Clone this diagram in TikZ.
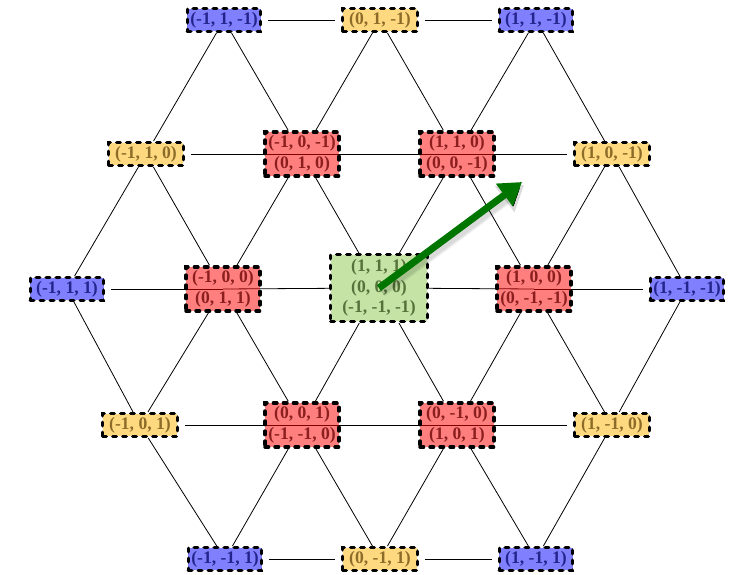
\documentclass[tikz,border=0pt]{standalone}
\usepackage{fontspec}
\setmainfont{Liberation Serif}
\usetikzlibrary{arrows.meta}
\pgfdeclarelayer{background}
\pgfsetlayers{background,main}

\definecolor{bluefill}{RGB}{128,128,255}
\definecolor{bluetext}{RGB}{36,36,140}
\definecolor{yellowfill}{RGB}{255,217,128}
\definecolor{yellowtext}{RGB}{140,108,40}
\definecolor{redtext}{RGB}{140,30,30}
\definecolor{greenfill}{RGB}{197,227,165}
\definecolor{greentext}{RGB}{86,114,58}
\definecolor{arrowgreen}{RGB}{0,118,0}

\tikzset{
  cell/.style={draw=black, line width=3.4pt, dash pattern=on 3.6pt off 6.4pt,
    line cap=round, rectangle, align=center, inner xsep=1pt, inner ysep=1pt,
    font=\fontsize{17.6}{20.5}\selectfont\bfseries},
  bluecell/.style={cell, fill=bluefill, text=bluetext, minimum width=73.5pt, minimum height=22.5pt},
  yellowcell/.style={cell, fill=yellowfill, text=yellowtext, minimum width=74.5pt, minimum height=22.5pt},
  redcell/.style={cell, fill=red, fill opacity=0.5, text opacity=1, draw opacity=1,
    text=redtext, minimum width=74pt, minimum height=44pt},
  greencell/.style={cell, fill=greenfill, text=greentext, minimum width=96.5pt, minimum height=66.5pt},
  link/.style={draw=black, line width=0.8pt},
  gapboth/.style={link, shorten <=6pt, shorten >=6pt},
  gapstart/.style={link, shorten <=6pt},
  gapend/.style={link, shorten >=6pt},
  bigarrow/.style={draw=arrowgreen, line width=7pt,
    -{Triangle[length=22pt, width=27pt]}},
  arrowshade/.style={draw=black, draw opacity=0.05, line width=#1,
    -{Triangle[length=24pt, width=31pt]}},
}

\begin{document}
\begin{tikzpicture}[x=1pt, y=-1pt]
\useasboundingbox (0,0) rectangle (739,575);

% row 0
\node[bluecell]   (b1) at (224,20)  {(-1, 1, -1)};
\node[yellowcell] (y1) at (380,20)  {(0, 1, -1)};
\node[bluecell]   (b2) at (536,20)  {(1, 1, -1)};
% row 1
\node[yellowcell] (y2) at (146,154) {(-1, 1, 0)};
\node[redcell]    (r1) at (302,154) {(-1, 0, -1)\\(0, 1, 0)};
\node[redcell]    (r2) at (457,154) {(1, 1, 0)\\(0, 0, -1)};
\node[yellowcell] (y3) at (612,154) {(1, 0, -1)};
% row 2
\node[bluecell]   (b3) at (67,289)  {(-1, 1, 1)};
\node[redcell]    (r3) at (223,289) {(-1, 0, 0)\\(0, 1, 1)};
\node[greencell]  (g)  at (379,288) {(1, 1, 1)\\(0, 0, 0)\\(-1, -1, -1)};
\node[redcell]    (r4) at (534,289) {(1, 0, 0)\\(0, -1, -1)};
\node[bluecell]   (b4) at (687,289) {(1, -1, -1)};
% row 3
\node[yellowcell] (y4) at (140,425) {(-1, 0, 1)};
\node[redcell]    (r5) at (302,425) {(0, 0, 1)\\(-1, -1, 0)};
\node[redcell]    (r6) at (457,425) {(0, -1, 0)\\(1, 0, 1)};
\node[yellowcell] (y5) at (612,425) {(1, -1, 0)};
% row 4
\node[bluecell]   (b5) at (225,559) {(-1, -1, 1)};
\node[yellowcell] (y6) at (380,559) {(0, -1, 1)};
\node[bluecell]   (b6) at (536,559) {(1, -1, 1)};

\begin{pgfonlayer}{background}
  % horizontal links (they run through the centres of the red cells)
  \draw[gapboth]  (b1) -- (y1);
  \draw[gapboth]  (y1) -- (b2);
  \draw[gapstart] (y2) -- (r1.center);
  \draw[link]     (r1.center) -- (r2.center);
  \draw[gapend]   (r2.center) -- (y3);
  \draw[gapstart] (b3) -- (r3.center);
  \draw[link]     (r3.center) -- (g);
  \draw[link]     (g) -- (r4.center);
  \draw[gapend]   (r4.center) -- (b4);
  \draw[gapstart] (y4) -- (r5.center);
  \draw[link]     (r5.center) -- (r6.center);
  \draw[gapend]   (r6.center) -- (y5);
  \draw[gapboth]  (b5) -- (y6);
  \draw[gapboth]  (y6) -- (b6);
  % diagonal links
  \foreach \a/\b in {b1/y2, b1/r1, y1/r1, y1/r2, b2/r2, b2/y3,
                     y2/b3, y2/r3, r1/r3, r1/g, r2/g, r2/r4, y3/r4, y3/b4,
                     b3/y4, r3/y4, r3/r5, g/r5, g/r6, r4/r6, r4/y5, b4/y5,
                     y4/b5, r5/b5, r5/y6, r6/y6, r6/b6, y5/b6}
    \draw[link] (\a) -- (\b);
\end{pgfonlayer}

% direction arrow from the centre cell, over a faint soft shadow
\coordinate (tip) at (522,182);
\coordinate (tipshade) at (524,185);
\coordinate (startshade) at (381,291);
\foreach \w in {13pt, 11pt, 9pt}
  \draw[arrowshade=\w] (startshade) -- (tipshade);
\draw[bigarrow] (g.center) -- (tip);
\end{tikzpicture}
\end{document}
